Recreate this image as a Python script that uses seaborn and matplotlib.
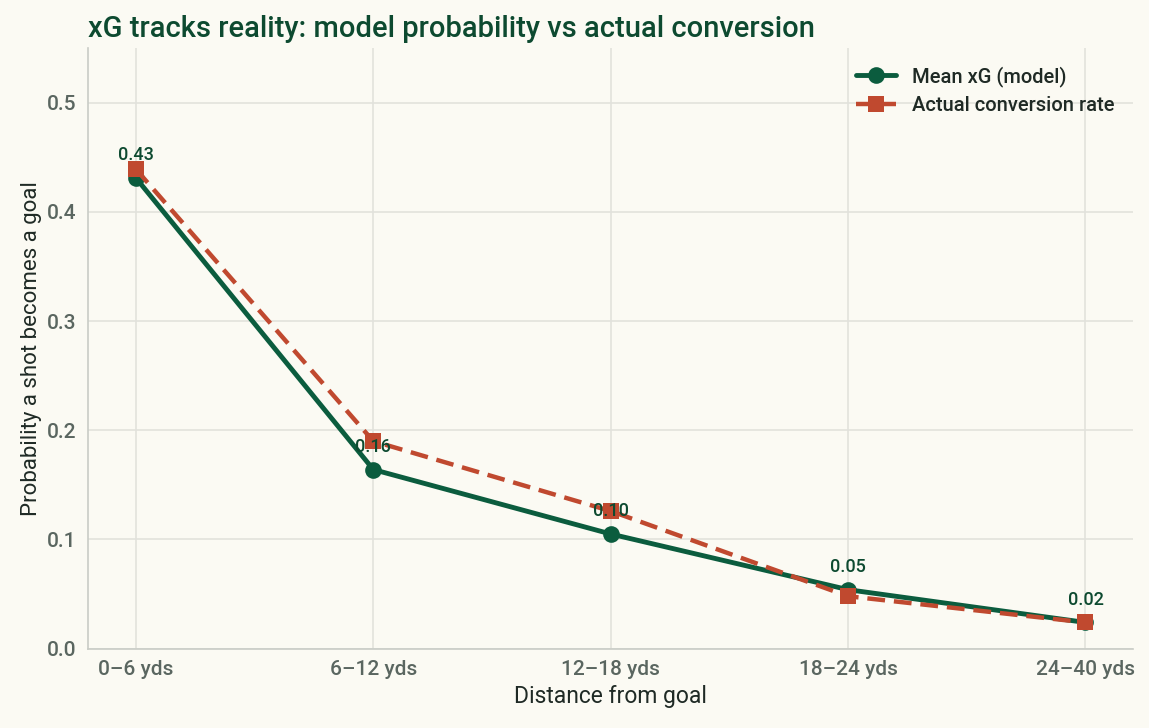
import pandas as pd
import seaborn as sns
import matplotlib.pyplot as plt

# distance bands and rates
bands = ['0–6 yds', '6–12 yds', '12–18 yds', '18–24 yds', '24–40 yds']
mean_xg = [0.431, 0.164, 0.105, 0.054, 0.024]
actual_rate = [0.439, 0.190, 0.126, 0.048, 0.024]

green = '#0b5c3e'
red = '#c0492f'
bg = '#fbfaf3'

sns.set_theme(style='whitegrid')
plt.rcParams['font.family'] = ['Roboto', 'DejaVu Sans']
plt.rcParams['font.weight'] = 'medium'

df = pd.DataFrame({'band': bands, 'xg': mean_xg, 'actual': actual_rate})

fig, ax = plt.subplots(figsize=(11.49, 7.28), dpi=100)
fig.patch.set_facecolor(bg)
ax.set_facecolor(bg)

sns.lineplot(data=df, x='band', y='xg', ax=ax, color=green, linewidth=3.5,
             marker='o', markersize=12, markeredgewidth=0, label='Mean xG (model)', sort=False)
sns.lineplot(data=df, x='band', y='actual', ax=ax, color=red, linewidth=3.2,
             linestyle='--', marker='s', markersize=11, markeredgewidth=0,
             label='Actual conversion rate', sort=False)
ax.lines[1].set_dashes((4, 2))

for i, v in enumerate(mean_xg):
    ax.annotate(f'{v:.2f}', (i, v), xytext=(0, 10), textcoords='offset points',
                ha='center', va='bottom', fontsize=13, color='#0d4a30', zorder=5)

ax.set_xlim(-0.2, 4.2)
ax.set_ylim(0, 0.55)
ax.set_yticks([0, 0.1, 0.2, 0.3, 0.4, 0.5])

ax.grid(True, color='#e2e2dc', linewidth=1.2)
for s in ['top', 'right']:
    ax.spines[s].set_visible(False)
for s in ['left', 'bottom']:
    ax.spines[s].set_color('#c9ccc6')
    ax.spines[s].set_linewidth(1.2)
ax.tick_params(axis='both', colors='#5a6660', labelsize=15, length=5, width=1.2)
ax.tick_params(axis='both', color='#9aa39e')

ax.set_xlabel('Distance from goal', fontsize=16.5, color='#1f2a25')
ax.set_ylabel('Probability a shot becomes a goal', fontsize=16, color='#1f2a25')
ax.set_title('xG tracks reality: model probability vs actual conversion',
             fontsize=21, color='#0d4a30', loc='left', pad=8, fontweight='medium')

leg = ax.legend(loc='upper right', frameon=False, fontsize=14.5, borderaxespad=0.5,
                labelspacing=0.45)
for t in leg.get_texts():
    t.set_color('#1f2a25')

fig.subplots_adjust(left=0.077, right=0.986, top=0.934, bottom=0.109)
fig.savefig('out.png', dpi=100, facecolor=bg)
